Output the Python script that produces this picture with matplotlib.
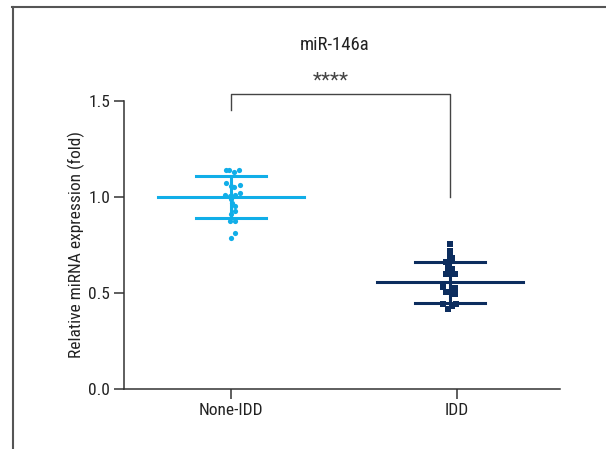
import numpy as np
import matplotlib
matplotlib.use("Agg")
import matplotlib.pyplot as plt
from matplotlib.lines import Line2D

plt.rcParams["font.family"] = ["Roboto Condensed", "Liberation Sans Narrow",
                               "Liberation Sans", "DejaVu Sans"]
plt.rcParams["font.stretch"] = "condensed"

groups = ["None-IDD", "IDD"]
title = "miR-146a"
ylabel = "Relative miRNA expression (fold)"
sig_label = "****"

none_idd = [1.141, 1.141, 1.130, 1.141, 1.071, 1.057, 1.054, 1.061,
            1.010, 1.005, 1.012, 1.019, 0.988, 0.970, 0.953, 0.929,
            0.911, 0.873, 0.873, 0.811, 0.786]
idd = [0.754, 0.720, 0.691, 0.681, 0.660, 0.632, 0.625, 0.601, 0.601,
       0.531, 0.528, 0.507, 0.496, 0.441, 0.441, 0.431, 0.418]
means = [1.00, 0.557]
sds = [0.107, 0.107]

# horizontal spread of the dots (pixels), just layout
none_dx = [-5.3, -2, 3.3, 8.3, -4.7, -0.3, 3.3, 8.7, -6, -1, 4, 8.7,
           0, 1.3, 4, 4, 0, -1, 4.3, 4, -0.3]
idd_dx = [0, 0, 0, 2.3, -4.3, -1.7, 2.3, -4.3, 5, -7, 5, -4.3, 5,
          -7, 6, 2.3, -2]

colors = ["#11aee8", "#0c2d5e"]
markers = ["o", "s"]
sizes = [14, 14]
px = 219.0  # pixels per x unit

fig = plt.figure(figsize=(6.06, 4.49), dpi=100)
ax = fig.add_axes([124 / 606, 1 - 389 / 449, 436 / 606, 288 / 449])

for i, (vals, dx) in enumerate([(none_idd, none_dx), (idd, idd_dx)]):
    x = i + np.array(dx) / px
    ax.scatter(x, vals, s=sizes[i], marker=markers[i], color=colors[i],
               linewidths=0, zorder=3)
    m, s = means[i], sds[i]
    ax.plot([i - 0.335, i + 0.335], [m, m], color=colors[i], lw=2.2, zorder=2)
    ax.plot([i - 0.16, i + 0.16], [m + s, m + s], color=colors[i], lw=2.2, zorder=2)
    ax.plot([i - 0.16, i + 0.16], [m - s, m - s], color=colors[i], lw=2.2, zorder=2)
    ax.plot([i, i], [m - s, m + s], color=colors[i], lw=2.2, zorder=2)

ax.set_xlim(-107 / px, 329 / px)
ax.set_ylim(0, 1.5)
ax.set_yticks([0, 0.5, 1.0, 1.5])
ax.set_yticklabels(["0.0", "0.5", "1.0", "1.5"])
ax.set_xticks([0, 1 + 7 / px])
ax.set_xticklabels(groups)
ax.tick_params(axis="both", length=7.5, width=1.1, color="#333333",
               labelsize=12.5, pad=2.5, labelcolor="#222222")
for side in ["top", "right"]:
    ax.spines[side].set_visible(False)
for side in ["left", "bottom"]:
    ax.spines[side].set_color("#333333")
    ax.spines[side].set_linewidth(1.1)

ax.set_ylabel(ylabel, fontsize=12.5, color="#222222", labelpad=2)

# significance bracket
yb = 1.536
ax.plot([0, 0, 1, 1], [1.455, yb, yb, 1.0], color="#444444", lw=1.0,
        clip_on=False)
ax.text(0.455, 1.605, sig_label, ha="center", va="center", fontsize=15,
        color="#444444")
ax.text(0.475, 1.792, title, ha="center", va="center", fontsize=13.5,
        color="#222222")

# outer frame (top and left only)
fig.add_artist(Line2D([12 / 606, 1], [1 - 7 / 449, 1 - 7 / 449],
                      transform=fig.transFigure, color="#555555", lw=1.5))
fig.add_artist(Line2D([13 / 606, 13 / 606], [0, 1 - 7 / 449],
                      transform=fig.transFigure, color="#555555", lw=1.5))

fig.savefig("out.png", dpi=100)
